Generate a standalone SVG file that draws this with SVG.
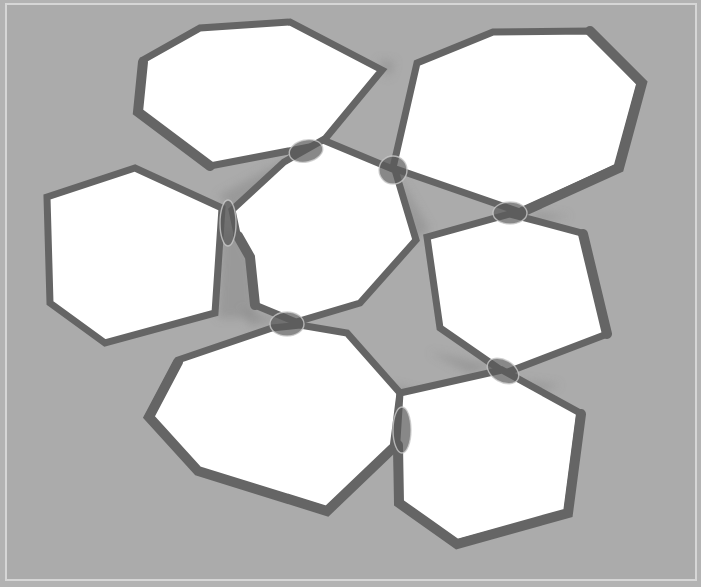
<svg xmlns="http://www.w3.org/2000/svg" width="701" height="587" viewBox="0 0 701 587">
<defs>
<style>
.grain{fill:#ffffff;stroke:#656565;stroke-width:7;stroke-linejoin:miter}
.thick{fill:none;stroke:#656565;stroke-width:10;stroke-linecap:round}
.contact{fill:#5a5a5a;fill-opacity:0.72;stroke:#cacaca;stroke-width:1.4;stroke-opacity:0.8}
.gap{fill:#8a8a8a;opacity:0.55}
</style>
<filter id="blur" x="-20%" y="-20%" width="140%" height="140%"><feGaussianBlur stdDeviation="4"/></filter>
</defs>
<rect x="0" y="0" width="701" height="587" fill="#b3b3b3"/>
<rect x="6" y="4" width="690" height="576" fill="#ababab" stroke="#d6d6d6" stroke-width="2"/>
<g id="gaps" filter="url(#blur)">
<polygon class="gap" points="218,196 285,160 300,165 240,215"/>
<polygon class="gap" points="222,230 240,235 252,260 256,318 218,318"/>
<polygon class="gap" points="398,175 430,230 412,240"/>
<polygon class="gap" points="530,212 570,216 540,222"/>
<polygon class="gap" points="430,352 495,366 470,374"/>
<polygon class="gap" points="520,380 560,385 540,392"/>
<polygon class="gap" points="378,60 395,62 388,78"/>
<polygon class="gap" points="240,308 280,320 250,326"/>
<polygon class="gap" points="395,385 430,395 400,400"/>
</g>
<g id="grain-A"><polygon class="grain" points="143,60 200,28 290,22 382,70 320,145 210,166 138,112"/><polyline class="thick" points="143,62 138,112 210,166"/></g>
<g id="grain-B"><polygon class="grain" points="417,63 493,32 590,31 640,83 617,167 520,212 393,168"/><polyline class="thick" points="590,31 642,83 619,168 522,212"/></g>
<g id="grain-D"><polygon class="grain" points="47,197 135,168 222,208 215,313 105,343 50,303"/></g>
<g id="grain-C"><polygon class="grain" points="323,140 395,170 416,240 360,303 296,322 255,305 250,257 237,234 232,210 284,162"/><polyline class="thick" points="255,305 250,257 238,236"/></g>
<g id="grain-E"><polygon class="grain" points="427,237 510,214 582,233 607,334 505,373 440,328"/><polyline class="thick" points="583,234 607,334"/></g>
<g id="grain-F"><polygon class="grain" points="272,328 178,360 148,417 197,470 327,510 393,448 400,393 347,333 300,325"/><polyline class="thick" points="178,362 149,417 198,471 327,511 392,449"/></g>
<g id="grain-G"><polygon class="grain" points="400,393 502,370 580,413 567,513 457,543 398,503 397,440"/><polyline class="thick" points="581,414 568,513 457,544 399,503 398,445"/></g>
<g id="contacts">
<ellipse class="contact" cx="306" cy="151" rx="17" ry="11" transform="rotate(-12 306 151)"/>
<ellipse class="contact" cx="393" cy="170" rx="14" ry="14"/>
<ellipse class="contact" cx="510" cy="213" rx="17" ry="11"/>
<ellipse class="contact" cx="228" cy="223" rx="8" ry="23"/>
<ellipse class="contact" cx="287" cy="324" rx="17" ry="12"/>
<ellipse class="contact" cx="503" cy="371" rx="17" ry="11" transform="rotate(30 503 371)"/>
<ellipse class="contact" cx="402" cy="430" rx="9" ry="23"/>
</g>
</svg>
